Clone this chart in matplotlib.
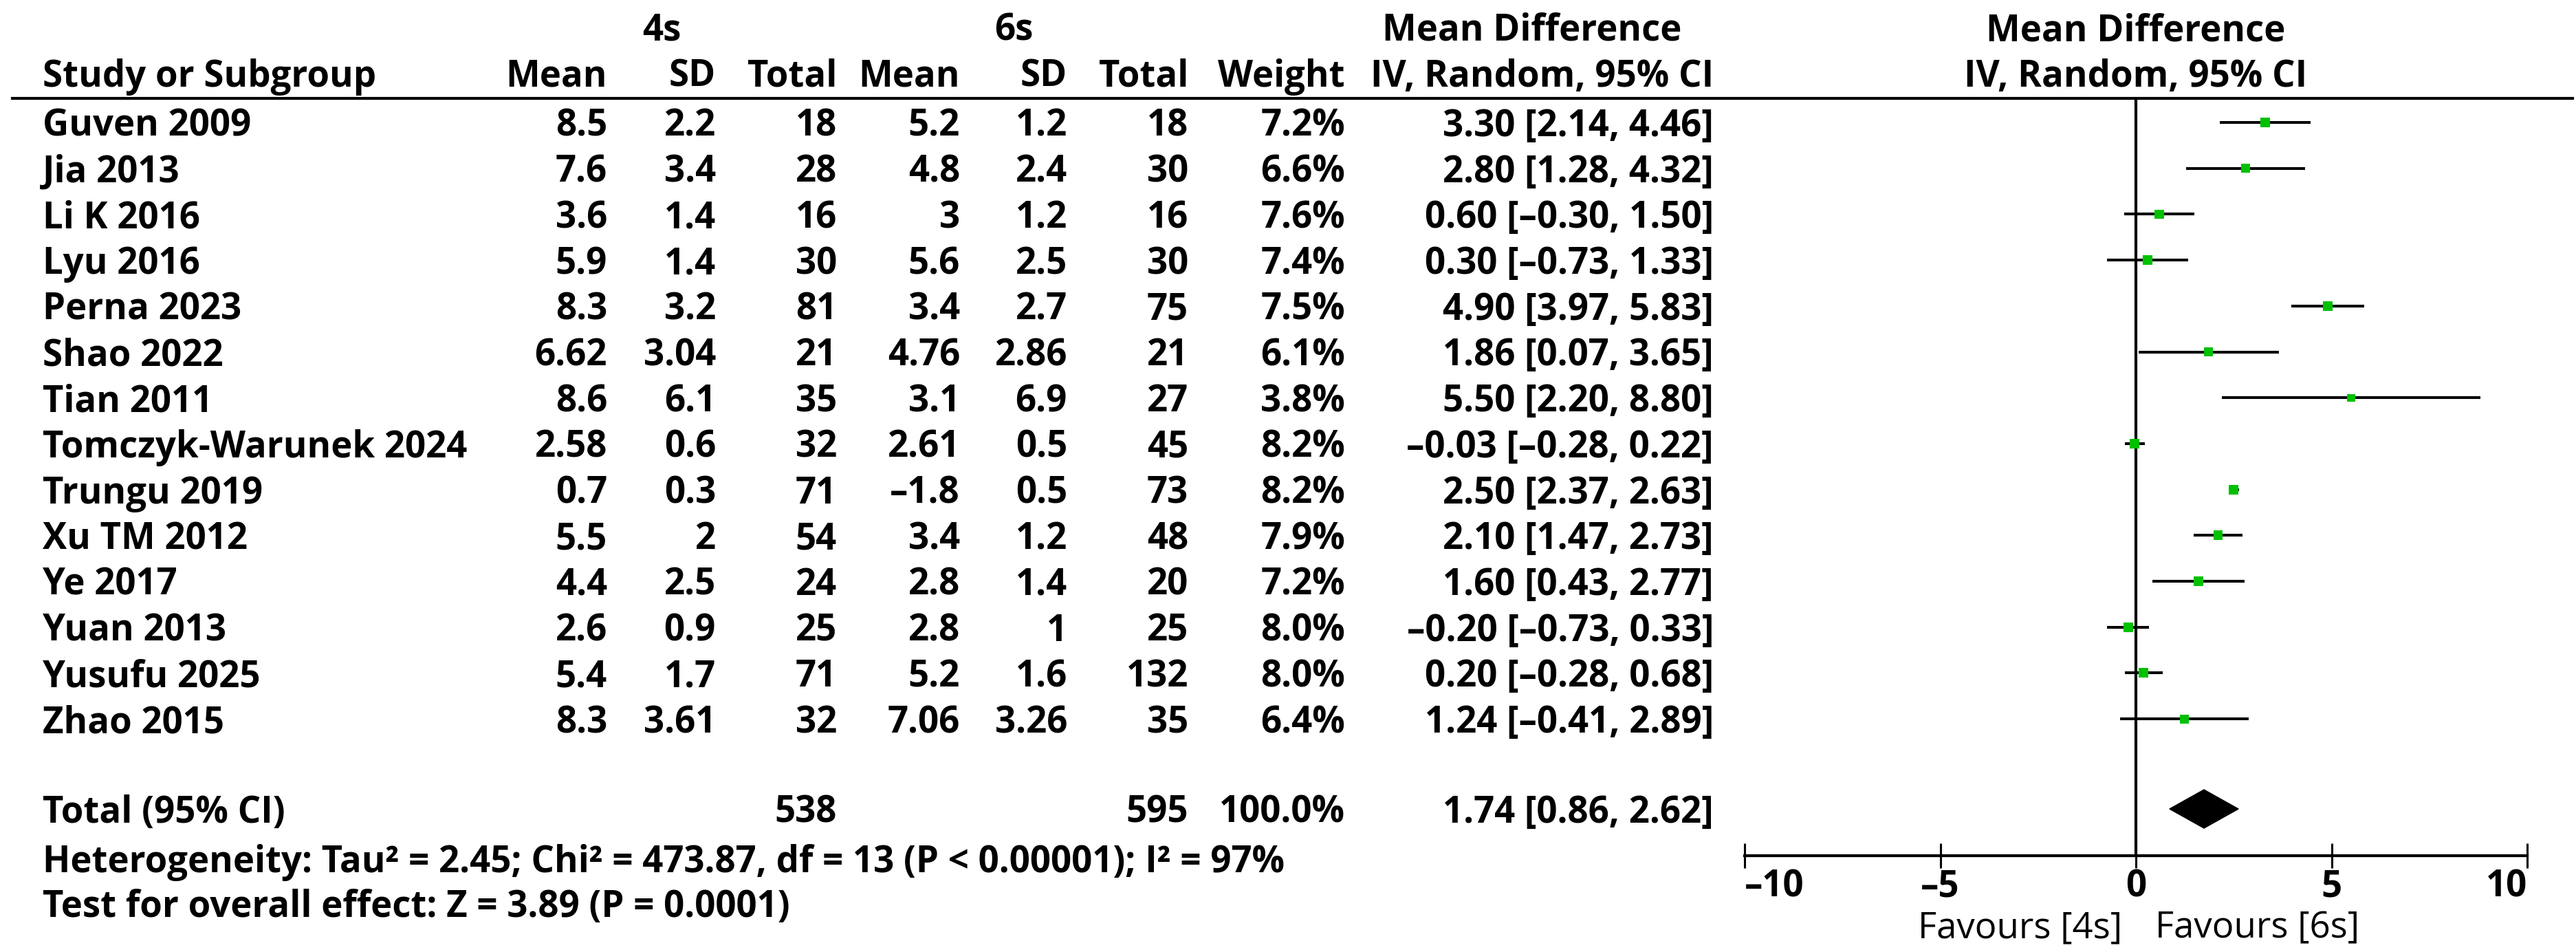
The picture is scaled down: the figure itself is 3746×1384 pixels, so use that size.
import numpy as np
import matplotlib
matplotlib.use("Agg")
import matplotlib.pyplot as plt

# ---- data ----
studies = ["Guven 2009", "Jia 2013", "Li K 2016", "Lyu 2016", "Perna 2023",
           "Shao 2022", "Tian 2011", "Tomczyk-Warunek 2024", "Trungu 2019",
           "Xu TM 2012", "Ye 2017", "Yuan 2013", "Yusufu 2025", "Zhao 2015"]
mean_4s = [8.5, 7.6, 3.6, 5.9, 8.3, 6.62, 8.6, 2.58, 0.7, 5.5, 4.4, 2.6, 5.4, 8.3]
sd_4s = [2.2, 3.4, 1.4, 1.4, 3.2, 3.04, 6.1, 0.6, 0.3, 2, 2.5, 0.9, 1.7, 3.61]
n_4s = [18, 28, 16, 30, 81, 21, 35, 32, 71, 54, 24, 25, 71, 32]
mean_6s = [5.2, 4.8, 3, 5.6, 3.4, 4.76, 3.1, 2.61, -1.8, 3.4, 2.8, 2.8, 5.2, 7.06]
sd_6s = [1.2, 2.4, 1.2, 2.5, 2.7, 2.86, 6.9, 0.5, 0.5, 1.2, 1.4, 1, 1.6, 3.26]
n_6s = [18, 30, 16, 30, 75, 21, 27, 45, 73, 48, 20, 25, 132, 35]
weight = [7.2, 6.6, 7.6, 7.4, 7.5, 6.1, 3.8, 8.2, 8.2, 7.9, 7.2, 8.0, 8.0, 6.4]
md = [3.30, 2.80, 0.60, 0.30, 4.90, 1.86, 5.50, -0.03, 2.50, 2.10, 1.60, -0.20, 0.20, 1.24]
ci_lo = [2.14, 1.28, -0.30, -0.73, 3.97, 0.07, 2.20, -0.28, 2.37, 1.47, 0.43, -0.73, -0.28, -0.41]
ci_hi = [4.46, 4.32, 1.50, 1.33, 5.83, 3.65, 8.80, 0.22, 2.63, 2.73, 2.77, 0.33, 0.68, 2.89]

total_4s = 538
total_6s = 595
total_weight = 100.0
total_md, total_lo, total_hi = 1.74, 0.86, 2.62
tau2, chi2, df, p_het, i2 = 2.45, 473.87, 13, "0.00001", 97
z_val, p_overall = 3.89, "0.0001"

x_ticks = [-10, -5, 0, 5, 10]

# ---- layout (pixels) ----
W, H, DPI = 3746, 1384, 100
ROW0_Y, ROW_H = 178, 66.7
FONT = ["Open Sans", "DejaVu Sans"]
FS = 38
GREEN = "#00c000"


def row_of(py):
    return (py - ROW0_Y) / ROW_H


def fmt(v):
    return f"{v:g}".replace("-", "\u2013")


def fmt2(v):
    return f"{v:.2f}".replace("-", "\u2013")


BASE = 20 / ROW_H          # cap-centre to baseline
HEAD1 = row_of(39)
HEAD2 = row_of(106)
HLINE = row_of(143)
TOTAL_ROW = row_of(1176)
HET_ROW = row_of(1248)
TEST_ROW = row_of(1313)
FAV_ROW = row_of(1343)
AXIS_Y = 1244

rows = np.arange(len(studies))

fig = plt.figure(figsize=(W / DPI, H / DPI), dpi=DPI)
fig.patch.set_facecolor("white")

tab = fig.add_axes([0, 0, 1, 1])
tab.set_xlim(0, W)
tab.set_ylim(row_of(H), row_of(0))
tab.axis("off")

txt = dict(fontsize=FS, fontweight="bold", family=FONT, va="baseline", color="black")

# column right edges
cols = {"m4": 883, "s4": 1041, "n4": 1217, "m6": 1396, "s6": 1552,
        "n6": 1728, "w": 1956, "ci": 2492}
STUDY_X = 62

tab.text(962, HEAD1 + BASE, "4s", ha="center", **txt)
tab.text(1474, HEAD1 + BASE, "6s", ha="center", **txt)
tab.text(2228, HEAD1 + BASE, "Mean Difference", ha="center", **txt)
tab.text(STUDY_X, HEAD2 + BASE, "Study or Subgroup", ha="left", **txt)
for key, lab in [("m4", "Mean"), ("s4", "SD"), ("n4", "Total"), ("m6", "Mean"),
                 ("s6", "SD"), ("n6", "Total"), ("w", "Weight"),
                 ("ci", "IV, Random, 95% CI")]:
    tab.text(cols[key], HEAD2 + BASE, lab, ha="right", **txt)
tab.axhline(HLINE, xmin=18 / W, xmax=3741 / W, color="black", lw=3)

for i in rows:
    y = i + BASE
    tab.text(STUDY_X, y, studies[i], ha="left", **txt)
    tab.text(cols["m4"], y, fmt(mean_4s[i]), ha="right", **txt)
    tab.text(cols["s4"], y, fmt(sd_4s[i]), ha="right", **txt)
    tab.text(cols["n4"], y, str(n_4s[i]), ha="right", **txt)
    tab.text(cols["m6"], y, fmt(mean_6s[i]), ha="right", **txt)
    tab.text(cols["s6"], y, fmt(sd_6s[i]), ha="right", **txt)
    tab.text(cols["n6"], y, str(n_6s[i]), ha="right", **txt)
    tab.text(cols["w"], y, f"{weight[i]:.1f}%", ha="right", **txt)
    tab.text(cols["ci"], y, f"{fmt2(md[i])} [{fmt2(ci_lo[i])}, {fmt2(ci_hi[i])}]",
             ha="right", **txt)

y = TOTAL_ROW + BASE
tab.text(STUDY_X, y, "Total (95% CI)", ha="left", **txt)
tab.text(cols["n4"], y, str(total_4s), ha="right", **txt)
tab.text(cols["n6"], y, str(total_6s), ha="right", **txt)
tab.text(cols["w"], y, f"{total_weight:.1f}%", ha="right", **txt)
tab.text(cols["ci"], y, f"{fmt2(total_md)} [{fmt2(total_lo)}, {fmt2(total_hi)}]",
         ha="right", **txt)
tab.text(STUDY_X, HET_ROW + BASE,
         f"Heterogeneity: Tau\u00b2 = {tau2:.2f}; Chi\u00b2 = {chi2:.2f}, df = {df} "
         f"(P < {p_het}); I\u00b2 = {i2}%", ha="left", **txt)
tab.text(STUDY_X, TEST_ROW + BASE,
         f"Test for overall effect: Z = {z_val:.2f} (P = {p_overall})", ha="left", **txt)

# ---- forest panel ----
X0, X1 = 2537, 3675
fx = fig.add_axes([X0 / W, (H - AXIS_Y) / H, (X1 - X0) / W, (AXIS_Y - 143) / H])
fx.set_xlim(x_ticks[0], x_ticks[-1])
fx.set_ylim(row_of(AXIS_Y), HLINE)
fx.patch.set_alpha(0)
for s in ["top", "left", "right"]:
    fx.spines[s].set_visible(False)
fx.spines["bottom"].set_linewidth(3)
fx.set_yticks([])
fx.set_xticks(x_ticks)
labels = fx.set_xticklabels([fmt(t) for t in x_ticks], fontsize=FS,
                            fontweight="bold", family=FONT)
labels[0].set_ha("left")
labels[-1].set_ha("right")
fx.tick_params(axis="x", direction="inout", length=26, width=2.2, pad=0)

fx.axvline(0, color="black", lw=3, zorder=1)
fx.hlines(rows, ci_lo, ci_hi, color="black", lw=2.9, zorder=2)
# square side grows gently with weight
side_pt = 13.5 * (np.array(weight) / 7.2) ** 0.3 * 72 / DPI
fx.scatter(md, rows, marker="s", s=side_pt ** 2, color=GREEN, linewidths=0, zorder=3)

dh = 28 / ROW_H
fx.fill([total_lo, total_md, total_hi, total_md],
        [TOTAL_ROW, TOTAL_ROW - dh, TOTAL_ROW, TOTAL_ROW + dh],
        color="black", zorder=3, clip_on=False)

fx.text(0, HEAD1 + BASE, "Mean Difference", ha="center", **txt)
fx.text(0, HEAD2 + BASE, "IV, Random, 95% CI", ha="center", **txt)
fav = dict(fontsize=FS, family=FONT, va="baseline", color="black")
fx.text(-0.35, FAV_ROW + BASE, "Favours [4s]", ha="right", **fav)
fx.text(0.5, FAV_ROW + BASE, "Favours [6s]", ha="left", **fav)

fig.savefig("out.png", dpi=DPI, facecolor="white")
